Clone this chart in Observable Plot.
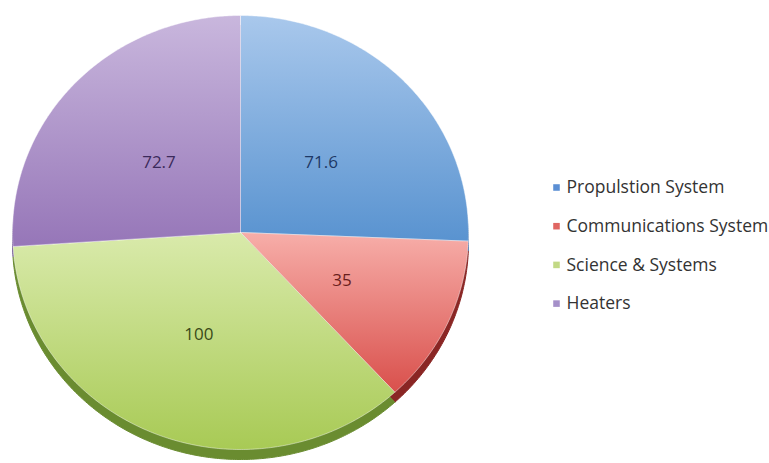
<!DOCTYPE html>
<html>
<head>
<meta charset="utf-8">
<script src="https://cdn.jsdelivr.net/npm/d3@7"></script>
<script src="https://cdn.jsdelivr.net/npm/@observablehq/plot@0.6"></script>
<style>
  html, body { margin: 0; padding: 0; background: #fff; }
  #chart { width: 769px; height: 463px; }
</style>
</head>
<body>
<div id="chart"></div>
<script>
// ---- data ----
const categories = ["Propulstion System", "Communications System", "Science & Systems", "Heaters"];
const values = [71.6, 35, 100, 72.7];
const labels = ["71.6", "35", "100", "72.7"];
const topColors = ["#a9c8ec", "#f7aea9", "#d9eaab", "#c9b7dd"];
const bottomColors = ["#5993d0", "#d9504c", "#a8ca55", "#9676b8"];
const sideColors = ["#3f6fa8", "#8a2624", "#6a8c30", "#6c5290"];
const legendColors = ["#5b8fd4", "#e06662", "#c2d985", "#a590c9"];
const labelColors = ["#1e3966", "#6a1e1c", "#3a4a18", "#3b2a5a"];

// ---- layout ----
const W = 769, H = 463;
const cx = 240, cy = 232, rx = 228, ry = 217, depth = 10;
const xDomain = [-1, 1], yDomain = [-1, 1];
const pxX = d3.scaleLinear(xDomain, [cx - rx, cx + rx]);
const pxY = d3.scaleLinear(yDomain, [cy + ry, cy - ry]);

// slice geometry from d3.pie (clockwise from 12 o'clock)
const arcs = d3.pie().sort(null).startAngle(0).endAngle(2 * Math.PI)(values);
function slicePoints(a, i) {
  const pts = [{x: 0, y: 0, i}];
  const n = Math.max(8, Math.ceil((a.endAngle - a.startAngle) / 0.01));
  for (let k = 0; k <= n; k++) {
    const t = a.startAngle + (a.endAngle - a.startAngle) * k / n;
    pts.push({x: Math.sin(t), y: Math.cos(t), i});
  }
  pts.push({x: 0, y: 0, i});
  return pts;
}
const slices = arcs.map((a, i) => slicePoints(a, i));

const labelData = arcs.map((a, i) => {
  const m = (a.startAngle + a.endAngle) / 2;
  return {x: 0.49 * Math.sin(m), y: 0.49 * Math.cos(m) - 0.015, text: labels[i], i};
});

const legendX = 556, legendTextX = 566, legendTop = 187, legendStep = 38.7;
const legendData = categories.map((c, i) => ({
  x: pxX.invert(legendX), tx: pxX.invert(legendTextX),
  y: pxY.invert(legendTop + i * legendStep), name: c, i
}));

const marks = [];
// side (3D depth) drawn first, shifted down
slices.forEach((pts, i) => {
  marks.push(Plot.line(pts, {x: "x", y: "y", fill: sideColors[i], stroke: sideColors[i], strokeWidth: 1, dy: depth, curve: "linear"}));
});
// top faces
slices.forEach((pts, i) => {
  marks.push(Plot.line(pts, {x: "x", y: "y", fill: `url(#grad${i})`, stroke: "#ffffff", strokeOpacity: 0.45, strokeWidth: 1, curve: "linear"}));
});
// value labels
marks.push(Plot.text(labelData, {x: "x", y: "y", text: "text", fill: d => labelColors[d.i], fontSize: 17, fontFamily: "Open Sans"}));
// legend
marks.push(Plot.dot(legendData, {x: "x", y: "y", symbol: "square", r: 3.7, fill: d => legendColors[d.i], stroke: null}));
marks.push(Plot.text(legendData, {x: "tx", y: "y", text: "name", textAnchor: "start", fill: "#333", fontSize: 17.5, fontFamily: "Open Sans"}));

const chart = Plot.plot({
  width: W, height: H,
  margin: 0,
  x: {domain: xDomain, range: [cx - rx, cx + rx], axis: null},
  y: {domain: yDomain, range: [cy + ry, cy - ry], axis: null},
  color: {type: "identity"},
  style: {background: "#fff", overflow: "visible"},
  marks
});

// gradients (per-slice, vertical)
const ns = "http://www.w3.org/2000/svg";
const defs = document.createElementNS(ns, "defs");
topColors.forEach((c, i) => {
  const g = document.createElementNS(ns, "linearGradient");
  g.setAttribute("id", `grad${i}`);
  g.setAttribute("x1", 0); g.setAttribute("x2", 0);
  g.setAttribute("y1", 0); g.setAttribute("y2", 1);
  const s1 = document.createElementNS(ns, "stop");
  s1.setAttribute("offset", "0%"); s1.setAttribute("stop-color", c);
  const s2 = document.createElementNS(ns, "stop");
  s2.setAttribute("offset", "100%"); s2.setAttribute("stop-color", bottomColors[i]);
  g.appendChild(s1); g.appendChild(s2);
  defs.appendChild(g);
});
chart.insertBefore(defs, chart.firstChild);
document.getElementById("chart").appendChild(chart);
</script>
</body>
</html>
